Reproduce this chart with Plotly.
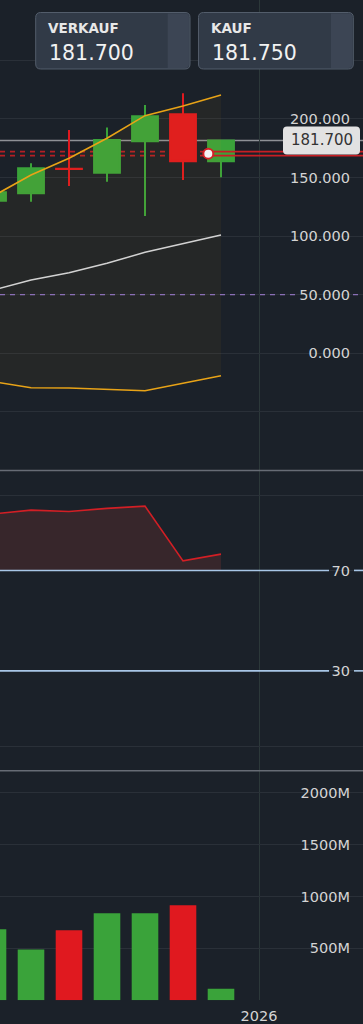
import plotly.graph_objects as go

W, H = 363, 1024
BG = "#1b2129"
GREEN = "#3aa33a"
RED = "#e0191f"
ORANGE = "#e8a317"
FONT = "DejaVu Sans"
LABEL = "#d4d4d4"

# ---------------- data ----------------
period_idx = [0, 1, 2, 3, 4, 5, 6]
open_ = [130.2, 136.6, 157.4, 154.1, 180.9, 204.0, 163.9]
high = [141.0, 162.2, 190.6, 192.6, 211.9, 221.9, 181.7]
low = [124.0, 129.4, 142.8, 146.5, 117.2, 147.9, 150.2]
close = [137.4, 157.9, 157.2, 182.0, 202.3, 163.9, 181.7]
bb_upper = [134.1, 152.2, 166.4, 183.5, 202.8, 211.1, 220.5]
bb_middle = [53.9, 62.6, 68.8, 76.8, 86.2, 93.9, 101.0]
bb_lower = [-24.1, -29.4, -29.6, -30.5, -31.9, -25.6, -19.1]
rsi = [92.5, 94.0, 93.5, 94.7, 95.6, 73.8, 76.5]
volume_m = [683, 490, 674, 838, 838, 915, 111]
rsi_levels = [70, 30]
rsi_fill_base = 70
mid_level = 50
position_levels = [172.1, 168.7]
position_entry_x = 5.666
position_entry_y = 170.4
bid = 181.700
ask = 181.750
year_ticks = [7]
year_labels = ["2026"]
price_ticks = [-50, 0, 50, 100, 150, 200, 250]
price_ticklabels = ["", "0.000", "50.000", "100.000", "150.000", "200.000", ""]
rsi_ticks = [0, 30, 70, 100]
rsi_ticklabels = ["", "30", "70", ""]
vol_ticks = [500, 1000, 1500, 2000]
vol_ticklabels = ["500M", "1000M", "1500M", "2000M"]

x_range = [0.184, 9.737]
price_range = [-100.0, 301.5]
rsi_range = [-9.8, 109.8]
vol_range = [0, 2210]

bar_colors = [GREEN if c >= o else RED for o, c in zip(open_, close)]

fig = go.Figure()

# Bollinger bands
fig.add_trace(go.Scatter(x=period_idx, y=bb_lower, mode="lines",
                         line=dict(color=ORANGE, width=1.6), xaxis="x", yaxis="y"))
fig.add_trace(go.Scatter(x=period_idx, y=bb_upper, mode="lines", fill="tonexty",
                         fillcolor="rgba(232,163,23,0.05)",
                         line=dict(color=ORANGE, width=1.6), xaxis="x", yaxis="y"))
fig.add_trace(go.Scatter(x=period_idx, y=bb_middle, mode="lines",
                         line=dict(color="#d2d2d2", width=1.5), xaxis="x", yaxis="y"))

# candles
fig.add_trace(go.Candlestick(
    x=period_idx, open=open_, high=high, low=low, close=close,
    increasing=dict(line=dict(color=GREEN, width=2), fillcolor=GREEN),
    decreasing=dict(line=dict(color=RED, width=2), fillcolor=RED),
    whiskerwidth=0, xaxis="x", yaxis="y"))

# open position lines (solid part after entry)
for lvl in position_levels:
    fig.add_trace(go.Scatter(x=[position_entry_x, x_range[1]], y=[lvl, lvl], mode="lines",
                             line=dict(color="#c81e24", width=1.6), xaxis="x", yaxis="y"))
fig.add_trace(go.Scatter(x=[position_entry_x], y=[position_entry_y], mode="markers",
                         marker=dict(symbol="circle", size=10, color="#f4f4f4",
                                     line=dict(color="#d42226", width=2)),
                         xaxis="x", yaxis="y"))

# RSI
fig.add_trace(go.Scatter(x=period_idx, y=[rsi_fill_base] * len(period_idx), mode="lines",
                         line=dict(width=0, color="rgba(0,0,0,0)"), xaxis="x2", yaxis="y2"))
fig.add_trace(go.Scatter(x=period_idx, y=rsi, mode="lines", fill="tonexty",
                         fillcolor="#37262b", line=dict(color="#d21f25", width=1.6),
                         xaxis="x2", yaxis="y2"))

# Volume
fig.add_trace(go.Bar(x=period_idx, y=volume_m, width=0.7, marker=dict(color=bar_colors, line=dict(width=0)),
                     xaxis="x3", yaxis="y3"))

shapes = []
# current price line
shapes.append(dict(type="line", xref="paper", yref="y", x0=0, x1=1, y0=close[-1], y1=close[-1],
                   line=dict(color="#8e9196", width=1.5), layer="between"))
# dashed position lines before entry
for lvl in position_levels:
    shapes.append(dict(type="line", xref="x", yref="y", x0=x_range[0], x1=position_entry_x,
                       y0=lvl, y1=lvl, line=dict(color="#b51f24", width=1.6, dash="5px,5px"),
                       layer="between"))
# 50 level dashed (split around its label)
for a, b in [(0, 297), (353, W)]:
    shapes.append(dict(type="line", xref="paper", yref="y", x0=a / W, x1=b / W,
                       y0=mid_level, y1=mid_level, line=dict(color="#8a6fb6", width=1.2, dash="5px,5px"),
                       layer="above"))
# RSI levels (split around labels)
for lvl in rsi_levels:
    for a, b in [(0, 329), (354, W)]:
        shapes.append(dict(type="line", xref="paper", yref="y2", x0=a / W, x1=b / W,
                           y0=lvl, y1=lvl, line=dict(color="#a8c6e6", width=1.6), layer="above"))
# panel separators
for py in [470.5, 770.8]:
    shapes.append(dict(type="line", xref="paper", yref="paper", x0=0, x1=1,
                       y0=1 - py / H, y1=1 - py / H, line=dict(color="#676c75", width=1.5)))


def P(x, y):
    return f"{x / W:.5f},{1 - y / H:.5f}"


def rrect(x0, y0, x1, y1, r, left_round=True):
    if left_round:
        return (f"M{P(x0 + r, y0)} L{P(x1 - r, y0)} Q{P(x1, y0)} {P(x1, y0 + r)} "
                f"L{P(x1, y1 - r)} Q{P(x1, y1)} {P(x1 - r, y1)} L{P(x0 + r, y1)} "
                f"Q{P(x0, y1)} {P(x0, y1 - r)} L{P(x0, y0 + r)} Q{P(x0, y0)} {P(x0 + r, y0)} Z")
    return (f"M{P(x0, y0)} L{P(x1 - r, y0)} Q{P(x1, y0)} {P(x1, y0 + r)} "
            f"L{P(x1, y1 - r)} Q{P(x1, y1)} {P(x1 - r, y1)} L{P(x0, y1)} Z")


annotations = []
for (bx0, bx1, title, val) in [(35.7, 190.0, "VERKAUF", bid), (198.5, 353.3, "KAUF", ask)]:
    by0, by1 = 12.5, 69.0
    shapes.append(dict(type="path", xref="paper", yref="paper", path=rrect(bx0, by0, bx1, by1, 5),
                       fillcolor="#313a47", line=dict(color="#535d6b", width=1), layer="above"))
    shapes.append(dict(type="path", xref="paper", yref="paper",
                       path=rrect(bx1 - 22.3, by0 + 1, bx1 - 1, by1 - 1, 4, left_round=False),
                       fillcolor="#3c4554", line=dict(width=0), layer="above"))
    annotations.append(dict(xref="paper", yref="paper", x=(bx0 + 12.5) / W, y=1 - 28.0 / H,
                            xanchor="left", yanchor="middle", text=title, showarrow=False,
                            borderpad=0, borderwidth=0,
                            font=dict(family=FONT, size=13.5, color="#e8e8e8", weight="bold")))
    annotations.append(dict(xref="paper", yref="paper", x=(bx0 + 13.5) / W, y=1 - 52.5 / H,
                            xanchor="left", yanchor="middle", text=f"{val:.3f}", showarrow=False,
                            borderpad=0, borderwidth=0,
                            font=dict(family=FONT, size=20.5, color="#f2f2f2")))

# current price tag
shapes.append(dict(type="path", xref="paper", yref="y", xsizemode="pixel", ysizemode="pixel",
                   xanchor=1, yanchor=close[-1],
                   path="M-76,-14 L-7,-14 Q-3,-14 -3,-10 L-3,10 Q-3,14 -7,14 L-76,14 Q-80,14 -80,10 L-80,-10 Q-80,-14 -76,-14 Z",
                   fillcolor="#e2e2e2", line=dict(width=0), layer="above"))
annotations.append(dict(xref="paper", yref="y", x=321.5 / W, y=close[-1], xanchor="center",
                        yanchor="middle", text=f"{close[-1]:.3f}", showarrow=False,
                        font=dict(family=FONT, size=15, color="#333333")))

grid_h = "#2a3038"
grid_v = "#2c3839"
common_x = dict(range=x_range, showgrid=True, gridcolor=grid_v, gridwidth=1, zeroline=False,
                tickvals=year_ticks, ticktext=year_labels, showline=False, ticks="",
                fixedrange=True)
common_y = dict(side="right", ticklabelposition="inside", ticks="", showline=False,
                zeroline=False, gridcolor=grid_h, gridwidth=1,
                tickfont=dict(family=FONT, size=14.5, color=LABEL), fixedrange=True,
                ticklabelstandoff=10)

fig.update_layout(
    width=W, height=H, margin=dict(l=0, r=0, t=0, b=0),
    paper_bgcolor=BG, plot_bgcolor=BG, showlegend=False,
    font=dict(family=FONT, color=LABEL),
    boxgap=0.32, boxgroupgap=0,
    xaxis=dict(**common_x, domain=[0, 1], anchor="y", showticklabels=False,
               rangeslider=dict(visible=False)),
    xaxis2=dict(**common_x, domain=[0, 1], anchor="y2", matches="x", showticklabels=False),
    xaxis3=dict(**common_x, domain=[0, 1], anchor="y3", matches="x", showticklabels=True,
                ticklabelstandoff=5,
                tickfont=dict(family=FONT, size=14.5, color=LABEL)),
    yaxis=dict(**common_y, domain=[1 - 470.5 / H, 1], range=price_range, anchor="x",
               tickvals=price_ticks, ticktext=price_ticklabels),
    yaxis2=dict(**common_y, domain=[1 - 770.8 / H, 1 - 470.5 / H], range=rsi_range, anchor="x2",
                tickvals=rsi_ticks, ticktext=rsi_ticklabels),
    yaxis3=dict(**common_y, domain=[1 - 1000.3 / H, 1 - 770.8 / H], range=vol_range, anchor="x3",
                tickvals=vol_ticks, ticktext=vol_ticklabels),
    shapes=shapes, annotations=annotations,
    hovermode=False, dragmode=False,
)

fig.write_html("out.html", config={"displayModeBar": False, "staticPlot": True})
